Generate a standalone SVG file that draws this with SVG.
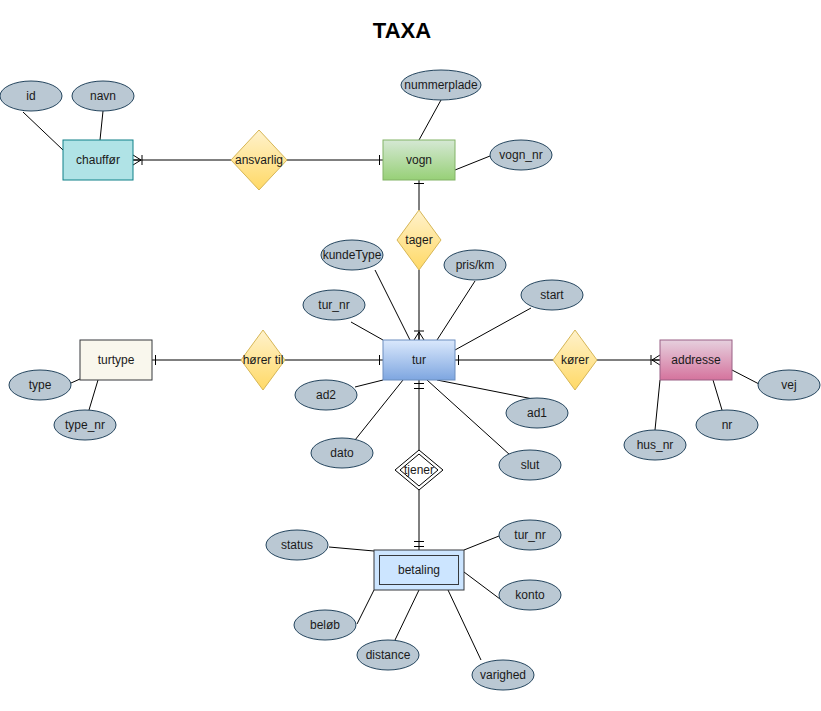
<svg xmlns="http://www.w3.org/2000/svg" width="821" height="711" viewBox="0 0 821 711">
<style>
text{font-family:"Liberation Sans",Arial,sans-serif;font-size:12px;fill:#1a1a1a;text-anchor:middle;dominant-baseline:central}
.title{font-size:22px;font-weight:bold;fill:#000}
.attr{fill:#bac8d3;stroke:#23445d;stroke-width:1}
.conn{stroke:#000;stroke-width:1;fill:none}
.rel{stroke:#d6b656;stroke-width:1;fill:url(#gYellow)}
</style>
<defs>
<linearGradient id="gYellow" x1="0" y1="0" x2="0" y2="1"><stop offset="0" stop-color="#fff2cc"/><stop offset="1" stop-color="#ffd966"/></linearGradient>
<linearGradient id="gGreen" x1="0" y1="0" x2="0" y2="1"><stop offset="0" stop-color="#d5e8d4"/><stop offset="1" stop-color="#97d077"/></linearGradient>
<linearGradient id="gBlue" x1="0" y1="0" x2="0" y2="1"><stop offset="0" stop-color="#dae8fc"/><stop offset="1" stop-color="#7ea6e0"/></linearGradient>
<linearGradient id="gPink" x1="0" y1="0" x2="0" y2="1"><stop offset="0" stop-color="#e6d0de"/><stop offset="1" stop-color="#d5739d"/></linearGradient>
<marker id="one" markerUnits="userSpaceOnUse" viewBox="-14 -8 16 16" refX="0" refY="0" markerWidth="16" markerHeight="16" orient="auto" overflow="visible">
<path d="M-3.5,-5V5" stroke="#000" stroke-width="1" fill="none"/>
</marker>
<marker id="mandOne" markerUnits="userSpaceOnUse" viewBox="-14 -8 16 16" refX="0" refY="0" markerWidth="16" markerHeight="16" orient="auto" overflow="visible">
<path d="M-3.5,-5V5M-8.5,-5V5" stroke="#000" stroke-width="1" fill="none"/>
</marker>
<marker id="oneToMany" markerUnits="userSpaceOnUse" viewBox="-14 -8 16 16" refX="0" refY="0" markerWidth="16" markerHeight="16" orient="auto" overflow="visible">
<path d="M-9,-5V5M-8,0L0,-5M-8,0L0,5M-8,0H0" stroke="#000" stroke-width="1" fill="none"/>
</marker>
</defs>
<rect width="821" height="711" fill="#ffffff"/>
<text class="title" x="402" y="30">TAXA</text>
<g id="connectors">
<path class="conn" d="M231,160H133" marker-end="url(#oneToMany)"/>
<path class="conn" d="M287,160H383" marker-end="url(#one)"/>
<path class="conn" d="M419,210V180" marker-end="url(#one)"/>
<path class="conn" d="M419,270V340" marker-end="url(#oneToMany)"/>
<path class="conn" d="M241,360H152" marker-end="url(#one)"/>
<path class="conn" d="M285,360H383" marker-end="url(#one)"/>
<path class="conn" d="M553,360H455" marker-end="url(#one)"/>
<path class="conn" d="M597,360H660" marker-end="url(#oneToMany)"/>
<path class="conn" d="M419,450V380" marker-end="url(#mandOne)"/>
<path class="conn" d="M419,490V550" marker-end="url(#mandOne)"/>
<path class="conn" d="M23,112L63,150"/>
<path class="conn" d="M103,111L100,140"/>
<path class="conn" d="M441,100L419,140"/>
<path class="conn" d="M490,156L455,170"/>
<path class="conn" d="M375,270L410,340"/>
<path class="conn" d="M351,322L383,340"/>
<path class="conn" d="M475,281L437,340"/>
<path class="conn" d="M531,308L455,350"/>
<path class="conn" d="M71,383L80,379"/>
<path class="conn" d="M89,410L98,380"/>
<path class="conn" d="M355,387L383,380"/>
<path class="conn" d="M355,440L403,380"/>
<path class="conn" d="M437,380L538,400"/>
<path class="conn" d="M427,380L510,455"/>
<path class="conn" d="M732,370L759,384"/>
<path class="conn" d="M713,380L722,410"/>
<path class="conn" d="M660,380L655,430"/>
<path class="conn" d="M329,547L374,551" stroke="#23445d"/>
<path class="conn" d="M499,536L464,550"/>
<path class="conn" d="M464,572L508,605"/>
<path class="conn" d="M357,624L374,590" stroke="#23445d"/>
<path class="conn" d="M395,640L419,590"/>
<path class="conn" d="M481,660L448,590"/>
</g>
<g id="chauffor"><rect x="63" y="140" width="70" height="40" fill="#b0e3e6" stroke="#0e8088"/><text x="98" y="160">chauffør</text></g>
<g id="attr-id"><ellipse class="attr" cx="31" cy="96" rx="31" ry="15"/><text x="31" y="96">id</text></g>
<g id="attr-navn"><ellipse class="attr" cx="103" cy="96" rx="31" ry="15"/><text x="103" y="96">navn</text></g>
<g id="ansvarlig"><path class="rel" d="M259,130L287,160L259,190L231,160Z"/><text x="259" y="160">ansvarlig</text></g>
<g id="vogn"><rect x="383" y="140" width="72" height="40" fill="url(#gGreen)" stroke="#82b366"/><text x="419" y="160">vogn</text></g>
<g id="attr-nummerplade"><ellipse class="attr" cx="441" cy="85" rx="40" ry="15"/><text x="441" y="85">nummerplade</text></g>
<g id="attr-vogn_nr"><ellipse class="attr" cx="521" cy="155" rx="31" ry="15"/><text x="521" y="155">vogn_nr</text></g>
<g id="tager"><path class="rel" d="M419,210L441,240L419,270L397,240Z"/><text x="419" y="240">tager</text></g>
<g id="tur"><rect x="383" y="340" width="72" height="40" fill="url(#gBlue)" stroke="#6c8ebf"/><text x="419" y="360">tur</text></g>
<g id="attr-kundeType"><ellipse class="attr" cx="352" cy="255" rx="31" ry="15"/><text x="352" y="255">kundeType</text></g>
<g id="attr-tur_nr"><ellipse class="attr" cx="334" cy="305" rx="31" ry="15"/><text x="334" y="305">tur_nr</text></g>
<g id="attr-pris_km"><ellipse class="attr" cx="475" cy="265" rx="31" ry="15"/><text x="475" y="265">pris/km</text></g>
<g id="attr-start"><ellipse class="attr" cx="552" cy="295" rx="31" ry="15"/><text x="552" y="295">start</text></g>
<g id="attr-ad2"><ellipse class="attr" cx="326" cy="395" rx="31" ry="15"/><text x="326" y="395">ad2</text></g>
<g id="attr-dato"><ellipse class="attr" cx="342" cy="453" rx="31" ry="15"/><text x="342" y="453">dato</text></g>
<g id="attr-ad1"><ellipse class="attr" cx="537" cy="413" rx="31" ry="15"/><text x="537" y="413">ad1</text></g>
<g id="attr-slut"><ellipse class="attr" cx="530" cy="465" rx="31" ry="15"/><text x="530" y="465">slut</text></g>
<g id="turtype"><rect x="80" y="340" width="72" height="40" fill="#f9f7ed" stroke="#36393d"/><text x="116" y="360">turtype</text></g>
<g id="attr-type"><ellipse class="attr" cx="40" cy="385" rx="31" ry="15"/><text x="40" y="385">type</text></g>
<g id="attr-type_nr"><ellipse class="attr" cx="85" cy="425" rx="31" ry="15"/><text x="85" y="425">type_nr</text></g>
<g id="horer-til"><path class="rel" d="M263,330L285,360L263,390L241,360Z"/><text x="263" y="360">hører til</text></g>
<g id="korer"><path class="rel" d="M575,330L597,360L575,390L553,360Z"/><text x="575" y="360">kører</text></g>
<g id="addresse"><rect x="660" y="340" width="72" height="40" fill="url(#gPink)" stroke="#996185"/><text x="696" y="360">addresse</text></g>
<g id="attr-vej"><ellipse class="attr" cx="789" cy="385" rx="31" ry="15"/><text x="789" y="385">vej</text></g>
<g id="attr-nr"><ellipse class="attr" cx="727" cy="425" rx="31" ry="15"/><text x="727" y="425">nr</text></g>
<g id="attr-hus_nr"><ellipse class="attr" cx="655" cy="445" rx="31" ry="15"/><text x="655" y="445">hus_nr</text></g>
<g id="tjener"><path d="M419,450L443,470L419,490L395,470Z" fill="#ffffff" stroke="#000"/><path d="M419,454L438,470L419,486L400,470Z" fill="none" stroke="#000"/><text x="419" y="470">tjener</text></g>
<g id="betaling"><rect x="374" y="550" width="90" height="40" fill="#cce5ff" stroke="#36393d"/><rect x="379.5" y="555.5" width="79" height="29" fill="none" stroke="#36393d"/><text x="419" y="570">betaling</text></g>
<g id="attr-status"><ellipse class="attr" cx="297" cy="545" rx="31" ry="15"/><text x="297" y="545">status</text></g>
<g id="attr-tur_nr2"><ellipse class="attr" cx="530" cy="535" rx="31" ry="15"/><text x="530" y="535">tur_nr</text></g>
<g id="attr-konto"><ellipse class="attr" cx="530" cy="595" rx="31" ry="15"/><text x="530" y="595">konto</text></g>
<g id="attr-belob"><ellipse class="attr" cx="325" cy="625" rx="31" ry="15"/><text x="325" y="625">beløb</text></g>
<g id="attr-distance"><ellipse class="attr" cx="388" cy="655" rx="31" ry="15"/><text x="388" y="655">distance</text></g>
<g id="attr-varighed"><ellipse class="attr" cx="503" cy="675" rx="31" ry="15"/><text x="503" y="675">varighed</text></g>
</svg>
